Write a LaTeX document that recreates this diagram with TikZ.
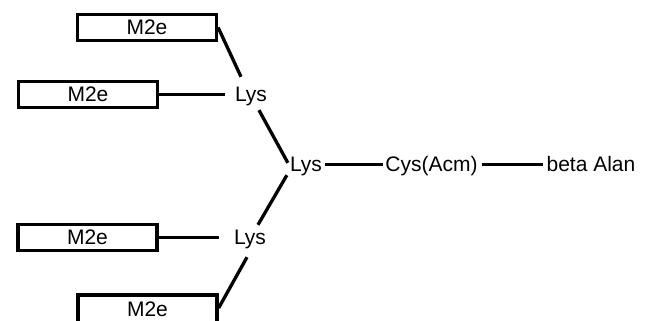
\documentclass[tikz,border=0pt]{standalone}
\usepackage{fontspec}
\setmainfont{Liberation Sans}
\begin{document}
\begin{tikzpicture}[x=1pt,y=1pt,
  lbl/.style={font=\fontsize{21}{24}\selectfont, inner sep=0pt, text height=15pt, text depth=0pt},
  pepbox/.style={draw, line width=3.3pt, minimum width=139pt, minimum height=26pt,
                 inner sep=0pt, font=\fontsize{21}{24}\selectfont, text height=15pt, text depth=0pt},
  bond/.style={line width=3.3pt}]
\useasboundingbox (0,0) rectangle (649,321);
\clip (0,0) rectangle (649,321);

% M2e peptide boxes
\node[pepbox] (boxA) at (147,293.5) {M2e};
\node[pepbox] (boxB) at (88,226.5) {M2e};
\node[pepbox] (boxC) at (87.5,83.5) {M2e};
\node[pepbox, minimum height=29pt] (boxD) at (147.5,11.5) {M2e};

% branching residues and the linear tail
\node[lbl, anchor=base] (lysA) at (251,219) {Lys};
\node[lbl, anchor=base] (lysB) at (306,149) {Lys};
\node[lbl, anchor=base] (lysC) at (250,76) {Lys};
\node[lbl, anchor=base] (cys)  at (431.5,149) {Cys(Acm)};
\node[lbl, anchor=base] (beta) at (591,149) {beta Alan};

% bonds
\draw[bond] (boxA.east) -- ([shift={(-10,10)}]lysA.north);
\draw[bond] (boxB.east) -- ([xshift=-10]lysA.west);
\draw[bond] ([shift={(8,-8)}]lysA.south) -- ([shift={(-2,-6)}]lysB.north west);
\draw[bond] ([shift={(-3,-3)}]lysB.south west) -- ([shift={(8,5)}]lysC.north);
\draw[bond] (boxC.east) -- ([xshift=-15]lysC.west);
\draw[bond] ([shift={(-3,-12)}]lysC.south) -- ([yshift=1.5]boxD.east);
\draw[bond] ([xshift=3]lysB.east) -- ([xshift=-2]cys.west);
\draw[bond] ([xshift=4]cys.east) -- ([xshift=-3]beta.west);
\end{tikzpicture}
\end{document}
